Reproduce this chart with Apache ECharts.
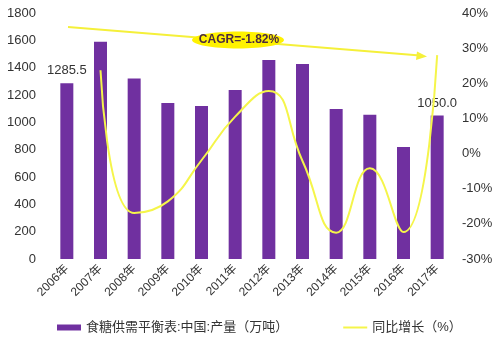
<!DOCTYPE html>
<html><head><meta charset="utf-8">
<script src="https://cdn.jsdelivr.net/npm/echarts@6/dist/echarts.min.js"></script>
<style>html,body{margin:0;padding:0;background:#fff}#c{width:500px;height:340px}</style>
</head><body><div id="c"></div>
<script>
var categories = ['2006年','2007年','2008年','2009年','2010年','2011年','2012年','2013年','2014年','2015年','2016年','2017年'];
var production = [1285.5, 1590, 1320, 1141, 1119, 1236, 1456, 1426, 1097, 1055, 820, 1050.0];
var growth = ['-', 23.7, -16.9, -13.6, -1.9, 10.5, 17.8, -2.1, -22.5, -4.2, -22.3, 28.0];
var leftTicks = {min: 0, max: 1800, interval: 200};
var rightTicks = {min: -30, max: 40, interval: 10};
var barName = '食糖供需平衡表:中国:产量（万吨）';
var lineName = '同比增长（%）';
var cagrText = 'CAGR=-1.82%';

var chart = echarts.init(document.getElementById('c'), null, {renderer: 'canvas'});
var font = 'Arial, "Liberation Sans", "Noto Sans CJK SC", sans-serif';
chart.setOption({
  animation: false,
  textStyle: {fontFamily: font},
  grid: {left: 50, right: 46, top: 13, bottom: 81},
  legend: {
    left: 52, top: 316, itemGap: 55, itemWidth: 24, itemHeight: 6,
    textStyle: {fontSize: 13, color: '#333', fontFamily: font},
    data: [{name: barName, icon: 'rect'},
           {name: lineName, icon: 'path://M0,0H24V2H0Z', itemStyle: {color: '#F5F54A'}}]
  },
  xAxis: {
    type: 'category', data: categories,
    axisLine: {show: false}, axisTick: {show: false},
    axisLabel: {rotate: 45, fontSize: 12, color: '#333', margin: 8, interval: 0}
  },
  yAxis: [
    {type: 'value', min: leftTicks.min, max: leftTicks.max, interval: leftTicks.interval,
     splitLine: {show: false}, axisLine: {show: false}, axisTick: {show: false},
     axisLabel: {fontSize: 13, color: '#333', margin: 14, formatter: function(v){ return String(v); }}},
    {type: 'value', min: rightTicks.min, max: rightTicks.max, interval: rightTicks.interval,
     splitLine: {show: false}, axisLine: {show: false}, axisTick: {show: false},
     axisLabel: {fontSize: 13, color: '#333', margin: 8, formatter: '{value}%'}}
  ],
  series: [
    {name: barName, type: 'bar', data: production, barWidth: 13,
     itemStyle: {color: '#7030A0'},
     label: {show: true, position: 'top', distance: 6, fontSize: 13, color: '#333',
       formatter: function(p){ return (p.dataIndex === 0 || p.dataIndex === production.length - 1) ? p.value.toFixed(1) : ''; }}},
    {name: lineName, type: 'line', yAxisIndex: 1, data: growth, smooth: 0.5,
     symbol: 'none', showSymbol: false,
     lineStyle: {color: '#F5F54A', width: 2}, itemStyle: {color: '#F5F54A'}}
  ],
  graphic: [
    {type: 'line', shape: {x1: 68, y1: 27, x2: 420, y2: 55.5}, style: {stroke: '#F5F03A', lineWidth: 2}, z: 10},
    {type: 'polygon', shape: {points: [[427, 56.5], [417, 51.5], [416, 60]]}, style: {fill: '#F5F03A'}, z: 10},
    {type: 'ellipse', shape: {cx: 238, cy: 40, rx: 46, ry: 8.5}, style: {fill: '#FFF200'}, z: 11},
    {type: 'text', x: 239, y: 40, style: {text: cagrText, fill: '#4B2A3E', font: 'bold 12px ' + font, align: 'center', verticalAlign: 'middle'}, z: 12}
  ]
});
</script></body></html>
